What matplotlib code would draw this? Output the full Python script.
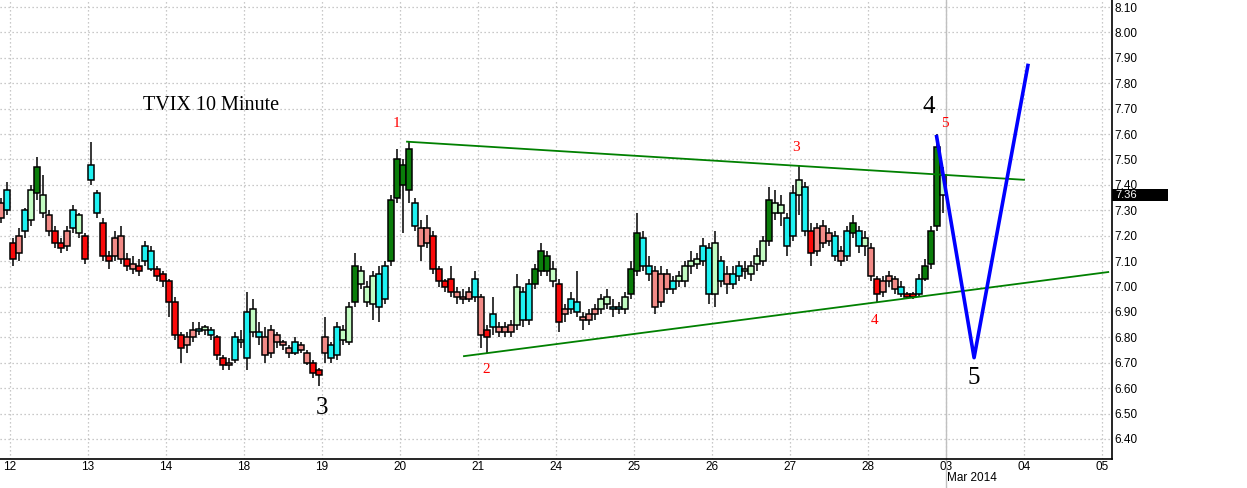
import matplotlib
matplotlib.use('Agg')
import matplotlib.pyplot as plt
from matplotlib.patches import Rectangle
import matplotlib.transforms as mtransforms

# ---------------- data ----------------
day_labels = ['12', '13', '14', '18', '19', '20', '21', '24', '25', '26', '27', '28', '03', '04', '05']
bars_per_day = 13
pre_bars = 2
price_ticks = [6.40, 6.50, 6.60, 6.70, 6.80, 6.90, 7.00, 7.10, 7.20, 7.30,
               7.40, 7.50, 7.60, 7.70, 7.80, 7.90, 8.00, 8.10]
last_price = 7.36

opens = [7.33, 7.30,
         7.17, 7.13, 7.22, 7.26, 7.37, 7.36, 7.28, 7.22, 7.17, 7.16, 7.23, 7.28, 7.20,
         7.48, 7.37, 7.25, 7.12, 7.12, 7.20, 7.11, 7.09, 7.08, 7.10, 7.14, 7.07, 7.05,
         7.02, 6.94, 6.81, 6.77, 6.80, 6.83, 6.83, 6.83, 6.80, 6.72, 6.69, 6.71, 6.79,
         6.72, 6.91, 6.82, 6.80, 6.74, 6.81, 6.78, 6.76, 6.74, 6.77, 6.74, 6.70, 6.67,
         6.74, 6.77, 6.73, 6.83, 6.78, 6.94, 7.06, 7.00, 6.93, 7.05, 6.95, 7.10, 7.35,
         7.48, 7.38, 7.33, 7.23, 7.17, 7.20, 7.07, 7.02, 7.03, 6.98, 6.96, 6.95, 6.96,
         6.96, 6.80, 6.84, 6.84, 6.82, 6.82, 6.85, 6.98, 6.87, 7.01, 7.06, 7.12, 7.07,
         7.01, 6.89, 6.91, 6.94, 6.88, 6.87, 6.89, 6.91, 6.96, 6.92, 6.91, 6.91, 6.97,
         7.06, 7.19, 7.08, 7.06, 6.94, 7.05, 6.99, 7.02, 7.02, 7.08, 7.09, 7.10, 7.15,
         6.97, 7.10, 7.05, 7.01, 7.04, 7.07, 7.05, 7.09, 7.10, 7.18, 7.33, 7.29, 7.27,
         7.20, 7.36, 7.39, 7.22, 7.14, 7.24, 7.18, 7.20, 7.14, 7.12, 7.21, 7.22, 7.16,
         7.15, 7.03, 6.98, 7.02, 7.03, 7.00, 6.97, 6.96, 6.97, 7.03, 7.09, 7.24, 7.44]
highs = [7.35, 7.41,
         7.19, 7.23, 7.31, 7.40, 7.51, 7.44, 7.30, 7.24, 7.19, 7.24, 7.32, 7.29, 7.21,
         7.57, 7.38, 7.27, 7.14, 7.22, 7.24, 7.13, 7.12, 7.11, 7.18, 7.16, 7.08, 7.06,
         7.03, 6.96, 6.82, 6.82, 6.86, 6.86, 6.85, 6.84, 6.81, 6.73, 6.72, 6.82, 6.83,
         6.98, 6.95, 6.86, 6.84, 6.85, 6.82, 6.79, 6.77, 6.80, 6.78, 6.75, 6.71, 6.68,
         6.88, 6.78, 6.86, 6.85, 6.94, 7.13, 7.08, 7.02, 7.06, 7.08, 7.10, 7.36, 7.54,
         7.50, 7.57, 7.35, 7.26, 7.28, 7.22, 7.08, 7.03, 7.08, 7.00, 6.99, 7.00, 7.06,
         6.97, 6.85, 6.96, 6.86, 6.86, 6.87, 7.05, 7.00, 7.03, 7.09, 7.17, 7.14, 7.10,
         7.03, 6.93, 6.98, 7.06, 6.90, 6.91, 6.93, 6.97, 6.99, 6.95, 6.94, 6.98, 7.10,
         7.29, 7.22, 7.12, 7.08, 7.08, 7.07, 7.04, 7.06, 7.10, 7.14, 7.13, 7.19, 7.17,
         7.22, 7.12, 7.08, 7.08, 7.10, 7.10, 7.10, 7.15, 7.20, 7.39, 7.38, 7.36, 7.29,
         7.40, 7.48, 7.41, 7.25, 7.25, 7.26, 7.23, 7.22, 7.16, 7.24, 7.28, 7.24, 7.22,
         7.17, 7.04, 7.04, 7.06, 7.04, 7.02, 6.98, 6.98, 7.05, 7.11, 7.24, 7.60, 7.47]
lows = [7.25, 7.28,
        7.08, 7.10, 7.19, 7.24, 7.34, 7.27, 7.20, 7.15, 7.13, 7.14, 7.21, 7.19, 7.09,
        7.40, 7.27, 7.10, 7.07, 7.10, 7.09, 7.06, 7.05, 7.04, 7.08, 7.06, 7.02, 7.00,
        6.88, 6.79, 6.70, 6.74, 6.78, 6.81, 6.81, 6.79, 6.71, 6.67, 6.67, 6.70, 6.76,
        6.67, 6.80, 6.77, 6.70, 6.72, 6.76, 6.75, 6.72, 6.73, 6.74, 6.69, 6.64, 6.61,
        6.70, 6.70, 6.71, 6.77, 6.77, 6.92, 6.99, 6.92, 6.87, 6.86, 6.93, 7.08, 7.33,
        7.21, 7.33, 7.22, 7.10, 7.15, 7.05, 7.00, 6.98, 6.96, 6.93, 6.93, 6.94, 6.94,
        6.76, 6.74, 6.81, 6.80, 6.80, 6.80, 6.83, 6.84, 6.85, 6.99, 7.04, 7.04, 7.00,
        6.82, 6.86, 6.89, 6.88, 6.83, 6.85, 6.87, 6.89, 6.91, 6.88, 6.89, 6.89, 6.95,
        7.04, 7.06, 7.02, 6.89, 6.92, 6.97, 6.97, 7.00, 7.00, 7.05, 7.07, 7.08, 6.93,
        6.92, 7.00, 6.97, 6.99, 7.02, 7.03, 7.02, 7.06, 7.08, 7.16, 7.26, 7.24, 7.12,
        7.18, 7.28, 7.20, 7.08, 7.12, 7.15, 7.16, 7.10, 7.08, 7.10, 7.19, 7.13, 7.12,
        7.02, 6.94, 6.96, 7.00, 6.97, 6.96, 6.95, 6.95, 6.96, 7.02, 7.07, 7.22, 7.29]
closes = [7.27, 7.38,
          7.11, 7.20, 7.30, 7.38, 7.47, 7.29, 7.22, 7.17, 7.15, 7.22, 7.30, 7.21, 7.11,
          7.42, 7.29, 7.12, 7.10, 7.19, 7.11, 7.08, 7.07, 7.06, 7.16, 7.07, 7.04, 7.02,
          6.94, 6.81, 6.76, 6.80, 6.83, 6.83, 6.84, 6.81, 6.73, 6.69, 6.70, 6.80, 6.78,
          6.90, 6.82, 6.80, 6.73, 6.83, 6.78, 6.77, 6.74, 6.78, 6.75, 6.70, 6.66, 6.65,
          6.80, 6.72, 6.84, 6.79, 6.92, 7.08, 7.01, 6.94, 7.04, 6.92, 7.08, 7.34, 7.50,
          7.40, 7.54, 7.24, 7.16, 7.23, 7.07, 7.02, 7.00, 6.98, 6.96, 6.95, 6.98, 7.03,
          6.81, 6.83, 6.89, 6.82, 6.84, 6.85, 7.00, 6.87, 7.01, 7.07, 7.14, 7.06, 7.02,
          6.86, 6.91, 6.95, 6.90, 6.87, 6.89, 6.91, 6.95, 6.93, 6.91, 6.92, 6.96, 7.07,
          7.21, 7.08, 7.05, 6.92, 7.05, 6.99, 7.02, 7.04, 7.08, 7.10, 7.11, 7.16, 6.97,
          7.17, 7.02, 7.01, 7.05, 7.08, 7.06, 7.08, 7.12, 7.18, 7.34, 7.29, 7.32, 7.16,
          7.37, 7.42, 7.22, 7.13, 7.23, 7.17, 7.21, 7.12, 7.10, 7.22, 7.25, 7.16, 7.19,
          7.04, 6.97, 7.02, 7.04, 6.99, 6.97, 6.96, 6.97, 7.03, 7.08, 7.22, 7.55, 7.36]
colors = list('rc'
              'RrcgGgrRRrcgR'
              'ccRRrrRrRccRR'
              'RRRrrcgcRRrcg'
              'cgcrrrrrcrrRR'
              'rccggGgggccGG'
              'GGcrrRRRRrrrc'
              'rRcrrrgccGGGg'
              'RrccrrrggccgG'
              'Gccrrrcggggc'
              'c'
              'gcrccggggGggc'
              'cgcRrrrcrcGcg'
              'rRrrrcRRcGGGg')

# trend lines / projection (x in trading-day units, y in price)
upper_line_days = [5.09, 13.0]
upper_line_prices = [7.57, 7.42]
lower_line_days = [5.82, 14.08]
lower_line_prices = [6.726, 7.057]
wave_days = [11.88, 12.36, 13.05]
wave_prices = [7.59, 6.72, 7.87]

# annotations: (text, day position, price)
red_labels = [('1', 4.96, 7.643), ('2', 6.10, 6.675), ('3', 10.08, 7.549),
              ('4', 11.09, 6.868), ('5', 11.99, 7.643)]
black_labels = [('3', 4.0, 6.521), ('4', 11.78, 7.706), ('5', 12.36, 6.639)]
title_text = 'TVIX 10 Minute'

# ---------------- drawing ----------------
palette = {'G': '#0a7d0a', 'g': '#c2fcc2', 'c': '#1ef2f2', 'R': '#fa0a0a', 'r': '#f28a86'}

fig = plt.figure(figsize=(12.47, 4.88), dpi=100)
ax = fig.add_axes([0, 29 / 488, 1112 / 1247, 459 / 488])

n = len(closes)
xs = [i - pre_bars + 0.5 for i in range(n)]
body_w = 0.98
for x, o, h, l, c, col in zip(xs, opens, highs, lows, closes, colors):
    ax.plot([x, x], [l, h], color='black', lw=1.1, zorder=3, solid_capstyle='butt')
    lo, hi = min(o, c), max(o, c)
    if hi - lo < 0.008:
        lo, hi = (lo + hi) / 2 - 0.004, (lo + hi) / 2 + 0.004
    ax.add_patch(Rectangle((x - body_w / 2, lo), body_w, hi - lo, facecolor=palette[col],
                           edgecolor='black', lw=1.1, zorder=4))

bpd = bars_per_day
ax.plot([d * bpd for d in upper_line_days], upper_line_prices, color='#008000', lw=1.3, zorder=5)
ax.plot([d * bpd for d in lower_line_days], lower_line_prices, color='#008000', lw=1.3, zorder=5)
ax.plot([d * bpd for d in wave_days], wave_prices, color='#0000ff', lw=2.6, zorder=6)

# month separator
month_x = 12 * bpd
ax.axvline(month_x, color='#c0c0c0', lw=1.0, ymin=-0.065, ymax=1.0, clip_on=False, zorder=1)

serif = ['Liberation Serif', 'DejaVu Serif']
for t, d, p in red_labels:
    ax.text(d * bpd, p, t, color='#ff0000', fontsize=11, family=serif, ha='center', va='center', zorder=7)
for t, d, p in black_labels:
    ax.text(d * bpd, p, t, color='black', fontsize=18, family=serif, ha='center', va='center', zorder=7)
ax.text(1.71 * bpd, 7.714, title_text, color='black', fontsize=14.5, family=serif,
        ha='left', va='center', zorder=7)

# axes
ax.set_xlim(-10 / 6, 1102 / 6)
ax.set_ylim(6.40 - 20 / 254, 8.10 + 7 / 254)
ax.set_xticks([d * bpd for d in range(len(day_labels))])
ax.set_xticklabels(day_labels)
ax.set_yticks(price_ticks)
ax.set_yticklabels(['%.2f' % v for v in price_ticks])
ax.yaxis.tick_right()
ax.tick_params(axis='both', length=0, labelsize=8.5)
ax.tick_params(axis='y', pad=1.5)
ax.tick_params(axis='x', pad=1.5)
for lab in ax.get_xticklabels() + ax.get_yticklabels():
    lab.set_family(['Liberation Sans', 'DejaVu Sans'])
ax.grid(True, color='#b8b8b8', linestyle=(0, (1, 2.2)), linewidth=0.9, zorder=0)
ax.set_axisbelow(True)
for s in ['top', 'left']:
    ax.spines[s].set_visible(False)
for s in ['bottom', 'right']:
    ax.spines[s].set_color('black')
    ax.spines[s].set_linewidth(1.2)

# last-price box
trans = mtransforms.blended_transform_factory(ax.transAxes, ax.transData)
ax.add_patch(Rectangle((1.0, last_price - 0.022), 56 / 1112, 0.047, transform=trans,
                       facecolor='black', edgecolor='none', clip_on=False, zorder=8))
ax.text(1.0 + 3 / 1112, last_price, '%.2f' % last_price, transform=trans, color='white',
        fontsize=8, family=['Liberation Sans', 'DejaVu Sans'], va='center', ha='left', zorder=9)

# month label
trans2 = mtransforms.blended_transform_factory(ax.transData, ax.transAxes)
ax.text(month_x + 0.15, -0.042, 'Mar 2014', transform=trans2, fontsize=8.5,
        family=['Liberation Sans', 'DejaVu Sans'], ha='left', va='center')

fig.savefig('out.png', dpi=100, facecolor='white')
